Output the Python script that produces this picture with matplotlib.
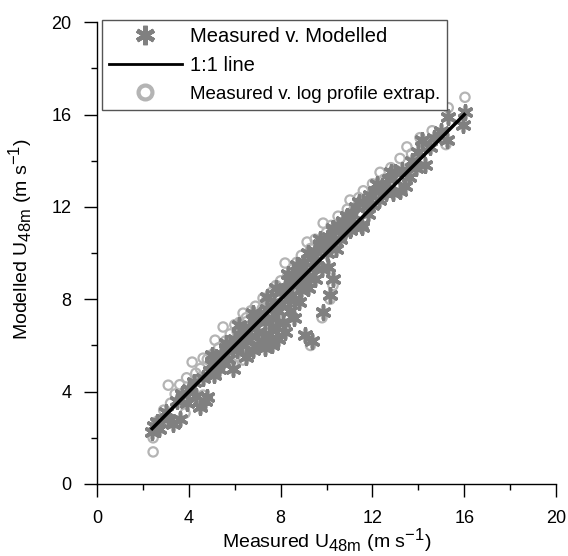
import matplotlib
matplotlib.use("Agg")
import matplotlib.pyplot as plt
import matplotlib._mathtext as mathtext_internal
from matplotlib.lines import Line2D

plt.rcParams["font.family"] = ["Liberation Sans", "DejaVu Sans"]
plt.rcParams["mathtext.fontset"] = "custom"
plt.rcParams["mathtext.rm"] = "Liberation Sans"
# subscripts in the reference are nearly full size
mathtext_internal.SHRINK_FACTOR = 0.85

# ── Data ────────────────────────────────────────
mod_x = [2.4, 2.5, 2.6, 2.7, 3.0, 3.1, 3.3, 3.5, 3.6, 3.7, 3.9, 4.0, 4.2, 4.3, 4.5,
         4.6, 4.7, 4.8, 4.9, 5.0, 5.1, 5.2, 5.3, 5.4, 5.5, 5.6, 5.7, 5.8, 5.9, 6.0,
         6.1, 6.2, 6.3, 6.4, 6.5, 6.5, 6.6, 6.7, 6.8, 6.9, 7.0, 7.0, 7.1, 7.2, 7.3,
         7.3, 7.4, 7.5, 7.6, 7.6, 7.7, 7.8, 7.9, 7.9, 8.0, 8.0, 8.1, 8.2, 8.2, 8.3,
         8.4, 8.4, 8.5, 8.6, 8.6, 8.7, 8.8, 8.8, 8.9, 9.0, 9.0, 9.06, 9.1, 9.2, 9.3,
         9.37, 9.4, 9.5, 9.5, 9.6, 9.7, 9.8, 9.85, 9.9, 10.0, 10.06, 10.1, 10.15, 10.2, 10.28,
         10.3, 10.4, 10.5, 10.6, 10.7, 10.8, 10.9, 11.0, 11.1, 11.2, 11.3, 11.5, 11.55, 11.6, 11.8,
         11.9, 12.0, 12.1, 12.3, 12.4, 12.6, 12.7, 12.9, 13.0, 13.2, 13.3, 13.4, 13.6, 13.7, 13.9,
         14.0, 14.15, 14.3, 14.5, 14.7, 15.0, 15.25, 15.3, 15.95, 16.03,
         5.0, 5.6, 6.2, 6.8, 7.4, 7.8, 8.3, 8.7, 9.2, 9.7, 10.3, 10.9, 11.4, 12.2, 12.8]
mod_y = [2.25, 2.5, 2.7, 2.4, 3.1, 2.8, 2.6, 3.6, 2.8, 3.9, 3.5, 4.1, 4.4, 3.8, 3.35,
         4.6, 3.6, 3.75, 4.9, 5.2, 4.7, 5.5, 5.0, 5.6, 5.3, 5.9, 5.4, 6.0, 5.0, 6.3,
         5.8, 6.5, 6.0, 6.7, 5.5, 6.2, 6.8, 6.4, 5.8, 7.1, 6.6, 6.0, 7.3, 6.2, 7.0,
         5.9, 7.6, 6.5, 7.2, 6.0, 7.9, 6.8, 7.5, 6.3, 8.3, 7.8, 7.0, 8.5, 6.6, 8.0,
         8.8, 7.5, 8.2, 9.0, 7.2, 8.6, 9.3, 7.9, 8.4, 9.6, 8.8, 6.45, 9.2, 8.5, 9.8,
         6.2, 9.4, 10.1, 8.9, 9.7, 10.4, 9.3, 7.45, 10.5, 10.0, 9.4, 10.7, 8.2, 10.3, 8.9,
         11.0, 10.2, 11.2, 10.6, 11.4, 10.9, 11.6, 11.0, 11.7, 11.3, 12.0, 11.2, 11.15, 12.2, 11.7,
         12.5, 12.1, 12.7, 12.3, 12.9, 12.6, 13.2, 12.6, 13.5, 12.7, 13.6, 12.9, 13.3, 14.0, 13.7,
         14.4, 14.9, 13.8, 14.6, 15.0, 15.3, 14.9, 15.9, 15.55, 16.1,
         5.6, 6.1, 6.9, 7.4, 8.1, 8.5, 9.1, 9.5, 10.0, 10.6, 11.1, 11.6, 12.2, 13.0, 13.5]

log_x = [2.44, 2.44, 2.6, 2.9, 3.1, 3.2, 3.4, 3.6, 3.83, 3.9, 4.14, 4.3, 4.5, 4.62, 4.62,
         4.8, 5.0, 5.14, 5.3, 5.49, 5.6, 5.8, 5.93, 6.0, 6.2, 6.36, 6.36, 6.5, 6.7, 6.9,
         7.0, 7.23, 7.4, 7.6, 7.8, 8.0, 8.19, 8.3, 8.5, 8.7, 8.9, 9.0, 9.15, 9.3, 9.3,
         9.5, 9.6, 9.8, 9.85, 10.0, 10.1, 10.28, 10.2, 10.4, 10.5, 10.7, 10.9, 11.02, 11.2, 11.4,
         11.6, 11.8, 12.0, 12.33, 12.5, 12.8, 13.0, 13.2, 13.5, 13.7, 14.07, 14.3, 14.6, 15.2, 15.3,
         16.03, 10.15, 8.1, 7.2, 6.1]
log_y = [1.39, 2.0, 2.7, 3.2, 4.28, 3.5, 3.9, 4.3, 3.07, 4.6, 5.28, 4.8, 5.0, 5.45, 3.85,
         5.4, 5.6, 6.23, 5.9, 6.8, 6.2, 6.5, 5.2, 6.9, 7.0, 7.4, 5.37, 7.2, 7.5, 7.7,
         7.3, 8.05, 8.0, 8.3, 8.6, 8.8, 9.57, 9.0, 9.3, 9.6, 9.9, 9.5, 10.48, 10.2, 6.0,
         10.6, 10.1, 7.2, 11.3, 10.9, 10.4, 8.6, 11.2, 11.0, 11.6, 11.3, 11.9, 12.3, 11.9, 12.4,
         12.7, 12.4, 13.0, 13.5, 13.2, 13.7, 13.6, 14.1, 14.6, 14.3, 15.0, 14.8, 15.3, 14.7, 16.3,
         16.75, 8.0, 8.4, 7.6, 6.6]

line_x = [2.4, 16.0]

STAR = "#808080"
RING = "#b4b4b4"

fig = plt.figure(figsize=(5.68, 5.56), dpi=100)
ax = fig.add_axes([0.171, 0.1295, 0.808, 0.8305])

ax.scatter(log_x, log_y, s=45, facecolors="none", edgecolors=RING, linewidths=1.6, zorder=2)
ax.scatter(mod_x, mod_y, s=90, marker=(6, 2, 0), color=STAR, linewidths=2.6, zorder=3)
ax.plot(line_x, line_x, color="black", linewidth=2.5, zorder=4)

ax.set_xlim(0, 20)
ax.set_ylim(0, 20)
ax.set_xticks([0, 4, 8, 12, 16, 20])
ax.set_yticks([0, 4, 8, 12, 16, 20])
ax.set_xticks([2, 6, 10, 14, 18], minor=True)
ax.set_yticks([2, 6, 10, 14, 18], minor=True)
ax.tick_params(which="major", direction="out", length=9.5, width=1, labelsize=13, pad=9)
ax.tick_params(which="minor", direction="out", length=4.5, width=1)
for side in ("top", "right"):
    ax.spines[side].set_visible(False)
for side in ("left", "bottom"):
    ax.spines[side].set_linewidth(1)

ax.set_xlabel(r"Measured U$_\mathregular{48m}$ (m s$^\mathregular{-1}$)", fontsize=14, labelpad=0)
ax.set_ylabel(r"Modelled U$_\mathregular{48m}$ (m s$^\mathregular{-1}$)", fontsize=14)
ax.yaxis.set_label_coords(-0.135, 0.53)

# ── Legend ───────────────────────────────────────
handles = [
    Line2D([], [], linestyle="none", marker=(6, 2, 0), markersize=14, markeredgewidth=3.2, color=STAR),
    Line2D([], [], color="black", linewidth=2),
    Line2D([], [], linestyle="none", marker="o", markersize=10, markerfacecolor="none",
           markeredgecolor=RING, markeredgewidth=3),
]
labels = ["Measured v. Modelled", "1:1 line", "Measured v. log profile extrap."]
leg = ax.legend(handles, labels, loc="upper left", bbox_to_anchor=(0.011, 1.005), borderaxespad=0,
                fancybox=False, framealpha=1, edgecolor="#555555", handlelength=3.6,
                handletextpad=0.4, labelspacing=0.5, borderpad=0.35, fontsize=14.5)
leg.get_frame().set_linewidth(1)
leg.get_texts()[2].set_fontsize(13.5)

fig.savefig("out.png", dpi=100)
